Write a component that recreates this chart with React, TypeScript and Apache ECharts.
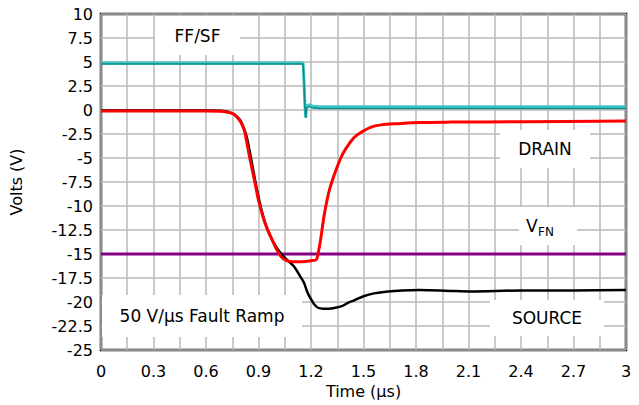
import React, { useEffect, useRef } from "react";
import * as echarts from "echarts";

// Time (µs) and voltage samples
const drainT = [0, 0.3, 0.6, 0.7, 0.74, 0.76, 0.78, 0.8, 0.82, 0.85, 0.88, 0.9, 0.93, 0.96, 0.98, 1.0, 1.03, 1.06, 1.1, 1.15, 1.2, 1.23, 1.24, 1.255, 1.275, 1.3, 1.33, 1.37, 1.4, 1.445, 1.48, 1.54, 1.6, 1.7, 1.82, 2.0, 2.4, 3.0];
const drainV = [-0.1, -0.1, -0.1, -0.15, -0.3, -0.45, -0.8, -1.3, -2.2, -5.0, -7.6, -9.4, -11.4, -12.8, -13.6, -14.4, -15.3, -15.7, -15.8, -15.8, -15.7, -15.6, -15.0, -13.5, -11.0, -8.7, -6.9, -5.0, -4.0, -2.9, -2.4, -1.8, -1.55, -1.42, -1.3, -1.26, -1.22, -1.15];

const sourceT = [0, 0.3, 0.6, 0.7, 0.75, 0.78, 0.8, 0.83, 0.86, 0.89, 0.92, 0.95, 0.98, 1.01, 1.045, 1.08, 1.103, 1.141, 1.16, 1.18, 1.2, 1.217, 1.24, 1.27, 1.3, 1.34, 1.38, 1.41, 1.45, 1.5, 1.56, 1.64, 1.72, 1.82, 2.0, 2.11, 2.4, 2.7, 3.0];
const sourceV = [-0.05, -0.05, -0.05, -0.1, -0.35, -0.75, -1.2, -2.6, -5.3, -8.2, -10.6, -12.4, -13.6, -14.5, -15.3, -15.9, -16.3, -17.4, -18.0, -19.0, -19.7, -20.2, -20.6, -20.7, -20.7, -20.6, -20.4, -20.1, -19.8, -19.4, -19.1, -18.9, -18.8, -18.75, -18.85, -18.9, -18.8, -18.8, -18.75];

const ffT = [0, 1.155, 1.16, 1.165, 1.17, 1.175, 1.19, 1.21, 1.25, 3.0];
const ffV = [4.9, 4.9, 3.0, 0.5, -0.8, 0.4, 0.55, 0.4, 0.35, 0.35];

const sfT = [0, 1.155, 1.16, 1.165, 1.17, 1.175, 1.19, 1.21, 1.25, 3.0];
const sfV = [4.8, 4.8, 3.0, 0.4, -0.8, 0.2, 0.35, 0.2, 0.15, 0.15];

const vfnT = [0, 3];
const vfnV = [-15, -15];

const xTicks = { min: 0, max: 3, step: 0.15 };
const yTicks = { min: -25, max: 10, step: 2.5 };

const zip = (t: number[], v: number[]) => t.map((x, i) => [x, v[i]]);

export default function App() {
  const ref = useRef<HTMLDivElement>(null);
  useEffect(() => {
    if (!ref.current) return;
    const chart = echarts.init(ref.current, undefined, { renderer: "svg" });
    const font = "DejaVu Sans";
    const annot = (text: string, x: number, y: number, w: number, h: number) => [
      { type: "rect", shape: { x, y, width: w, height: h }, style: { fill: "#fff" }, z: 10 },
      {
        type: "text",
        x: x + w / 2,
        y: y + h / 2,
        style: { text, fontFamily: font, fontSize: 17, fill: "#000", align: "center", verticalAlign: "middle" },
        z: 11,
      },
    ];
    chart.setOption({
      animation: false,
      grid: { left: 100, right: 13, top: 14, bottom: 55, show: true, borderColor: "#000", borderWidth: 2.5, backgroundColor: "#fff" },
      xAxis: {
        type: "value",
        min: xTicks.min,
        max: xTicks.max,
        interval: xTicks.step,
        name: "Time (µs)",
        nameLocation: "middle",
        nameGap: 33,
        nameTextStyle: { fontFamily: font, fontSize: 16, color: "#000" },
        axisLine: { show: false },
        axisTick: { show: false },
        splitLine: { show: true, lineStyle: { color: "#b8b8b8", width: 1.5 } },
        axisLabel: {
          fontFamily: font,
          fontSize: 16,
          color: "#000",
          margin: 13,
          formatter: (v: number) => {
            const k = Math.round(v / xTicks.step);
            if (k % 2 !== 0) return "";
            return String(Math.round(v * 10) / 10);
          },
        },
      },
      yAxis: {
        type: "value",
        min: yTicks.min,
        max: yTicks.max,
        interval: yTicks.step,
        name: "Volts (V)",
        nameLocation: "middle",
        nameGap: 77,
        nameRotate: 90,
        nameTextStyle: { fontFamily: font, fontSize: 16, color: "#000" },
        axisLine: { show: false },
        axisTick: { show: false },
        splitLine: { show: true, lineStyle: { color: "#b8b8b8", width: 1.5 } },
        axisLabel: {
          fontFamily: font,
          fontSize: 16,
          color: "#000",
          margin: 8,
          formatter: (v: number) => String(Math.round(v * 10) / 10),
        },
      },
      series: [
        { type: "line", name: "VFN", data: zip(vfnT, vfnV), showSymbol: false, lineStyle: { color: "#840084", width: 3 }, z: 2 },
        { type: "line", name: "SOURCE", data: zip(sourceT, sourceV), showSymbol: false, smooth: 0.3, lineStyle: { color: "#000", width: 2.5 }, z: 3 },
        { type: "line", name: "DRAIN", data: zip(drainT, drainV), showSymbol: false, smooth: 0.3, lineStyle: { color: "#ff0000", width: 3 }, z: 4 },
        { type: "line", name: "FF", data: zip(ffT, ffV), showSymbol: false, lineStyle: { color: "#3cc6c6", width: 3 }, z: 5 },
        { type: "line", name: "SF", data: zip(sfT, sfV), showSymbol: false, lineStyle: { color: "#0a8c8c", width: 1.5 }, z: 6 },
      ],
      graphic: [
        ...annot("FF/SF", 155, 16, 85, 39),
        ...annot("DRAIN", 500, 130, 90, 38),
        ...annot("SOURCE", 490, 300, 114, 36),
        ...annot("50 V/µs Fault Ramp", 102, 295, 200, 42),
        { type: "rect", shape: { x: 519, y: 207, width: 58, height: 38 }, style: { fill: "#fff" }, z: 10 },
        { type: "text", x: 526, y: 226, style: { text: "V", fontFamily: font, fontSize: 17, fill: "#000", align: "left", verticalAlign: "middle" }, z: 11 },
        { type: "text", x: 538, y: 232, style: { text: "FN", fontFamily: font, fontSize: 12, fill: "#000", align: "left", verticalAlign: "middle" }, z: 11 },
      ],
    });
    return () => chart.dispose();
  }, []);
  return <div ref={ref} style={{ width: 639, height: 405, position: "absolute", left: 0, top: 0 }} />;
}
